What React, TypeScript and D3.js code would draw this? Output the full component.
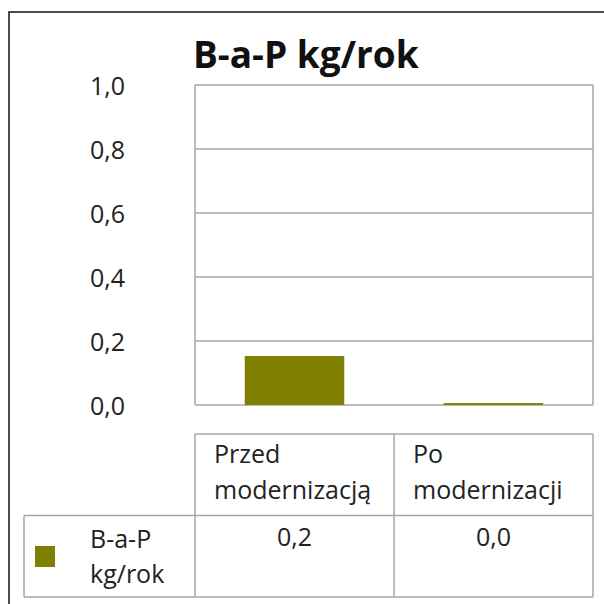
import React from "react";
import * as d3 from "d3";

const title = "B-a-P kg/rok";
const categories = ["Przed modernizacją", "Po modernizacji"];
const categoryLines = [["Przed", "modernizacją"], ["Po", "modernizacji"]];
const seriesName = ["B-a-P", "kg/rok"];
const values = [0.153, 0.006];
const valueLabels = ["0,2", "0,0"];
const yTicks = [0, 0.2, 0.4, 0.6, 0.8, 1.0];

const W = 604;
const H = 604;
const plotLeft = 195;
const plotRight = 593;
const plotTop = 85;
const plotBottom = 405;
const tableTop = 434;
const tableMid = 515.5;
const tableBottom = 597;
const rowHeaderLeft = 24;

const FONT = "'Open Sans', 'Noto Sans', sans-serif";
const GRID = "#a6a6a6";
const BAR = "#808000";
const FS = 25;

export default function App() {
  const x = d3.scaleBand<string>().domain(categories).range([plotLeft, plotRight]).padding(0);
  const y = d3.scaleLinear().domain([0, 1]).range([plotBottom, plotTop]);
  const bw = x.bandwidth();
  const fmt = (v: number) => d3.format(".1f")(v).replace(".", ",");

  return (
    <svg
      width={W}
      height={H}
      style={{ position: "absolute", left: 0, top: 0, background: "#fff" }}
      fontFamily={FONT}
    >
      <rect x={0} y={0} width={W} height={H} fill="#fff" />
      {/* outer frame */}
      <rect x={9} y={12} width={W + 20} height={H + 20} fill="none" stroke="#222" strokeWidth={1.6} />

      {/* title */}
      <text x={193} y={68} fontSize={37} fontWeight="bold" fill="#111">
        {title}
      </text>

      {/* gridlines */}
      {yTicks.map((t) => (
        <line key={"g" + t} x1={plotLeft} x2={plotRight} y1={y(t)} y2={y(t)} stroke={GRID} strokeWidth={1.5} />
      ))}
      {/* plot border verticals */}
      <line x1={plotLeft} x2={plotLeft} y1={plotTop} y2={plotBottom} stroke={GRID} strokeWidth={1.5} />
      <line x1={plotRight} x2={plotRight} y1={plotTop} y2={plotBottom} stroke={GRID} strokeWidth={1.5} />

      {/* y tick labels */}
      {yTicks.map((t) => (
        <text
          key={"t" + t}
          x={125}
          y={y(t) + 9.5}
          fontSize={FS}
          textAnchor="end"
          fill="#222"
        >
          {fmt(t)}
        </text>
      ))}

      {/* bars */}
      {categories.map((c, i) => (
        <rect
          key={"b" + c}
          x={(x(c) as number) + bw * 0.25}
          width={bw * 0.5}
          y={y(values[i])}
          height={plotBottom - y(values[i])}
          fill={BAR}
        />
      ))}

      {/* data table */}
      <g stroke={GRID} strokeWidth={1.5} fill="none">
        <line x1={plotLeft} x2={plotRight} y1={tableTop} y2={tableTop} />
        <line x1={rowHeaderLeft} x2={plotRight} y1={tableMid} y2={tableMid} />
        <line x1={rowHeaderLeft} x2={plotRight} y1={tableBottom} y2={tableBottom} />
        <line x1={rowHeaderLeft} x2={rowHeaderLeft} y1={tableMid} y2={tableBottom} />
        {[plotLeft, ...categories.map((c) => (x(c) as number) + bw)].map((xx, i) => (
          <line key={"v" + i} x1={xx} x2={xx} y1={tableTop} y2={tableBottom} />
        ))}
      </g>

      {categories.map((c, i) => (
        <g key={"h" + c}>
          {categoryLines[i].map((ln, j) => (
            <text key={j} x={(x(c) as number) + 19} y={463 + j * 36} fontSize={FS} fill="#222">
              {ln}
            </text>
          ))}
          <text x={(x(c) as number) + bw / 2} y={546} fontSize={FS} textAnchor="middle" fill="#222">
            {valueLabels[i]}
          </text>
        </g>
      ))}

      {/* legend key & series name */}
      <rect x={35} y={546} width={20} height={21} fill={BAR} />
      {seriesName.map((ln, j) => (
        <text key={"s" + j} x={90} y={548 + j * 35} fontSize={FS} fill="#222">
          {ln}
        </text>
      ))}
    </svg>
  );
}
